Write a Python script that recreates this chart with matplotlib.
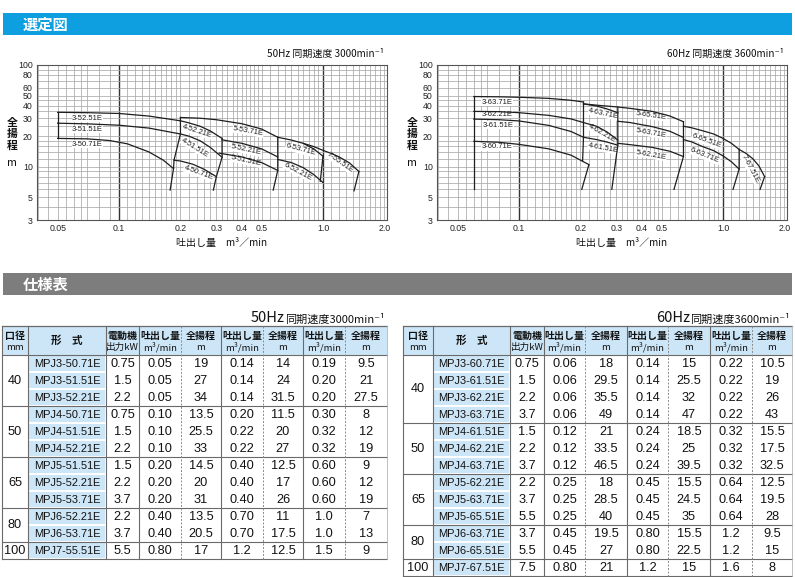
import numpy as np
import matplotlib
matplotlib.use("Agg")
import matplotlib.pyplot as plt
from matplotlib.patches import Rectangle
from matplotlib.ticker import NullLocator, NullFormatter
from matplotlib import font_manager

avail = {f.name for f in font_manager.fontManager.ttflist}
JP = ['Noto Sans CJK JP', 'DejaVu Sans']
LAT = ['Liberation Sans', 'DejaVu Sans'] if 'Liberation Sans' in avail else ['DejaVu Sans']
HAS_NARROW = 'Liberation Sans Narrow' in avail
NARROW = ['Liberation Sans Narrow', 'DejaVu Sans'] if HAS_NARROW else LAT
LABSIZE = 6.4 if HAS_NARROW else 5.5
MODELSIZE = 9.0 if HAS_NARROW else 7.9

# ---------------- data: 50 Hz selection chart (Q m3/min, H m) ----------------
s50_3 = [("3-52.51E", [0.05, 0.07, 0.10, 0.14, 0.20], [34.3, 34.0, 33.4, 31.5, 28.3]),
         ("3-51.51E", [0.05, 0.07, 0.10, 0.14, 0.20], [26.8, 26.4, 25.6, 24.0, 21.0]),
         ("3-50.71E", [0.05, 0.07, 0.09, 0.11, 0.14, 0.165, 0.185], [19.0, 18.8, 18.1, 16.8, 14.0, 11.6, 9.6])]
s50_4 = [("4-52.21E", [0.20, 0.22, 0.25, 0.28, 0.32], [28.3, 27.0, 25.0, 22.5, 19.0]),
         ("4-51.51E", [0.20, 0.22, 0.25, 0.28, 0.32], [21.0, 20.0, 18.0, 15.5, 12.4]),
         ("4-50.71E", [0.186, 0.20, 0.23, 0.26, 0.30], [11.6, 11.4, 10.6, 9.5, 8.0])]
s50_5 = [("5-53.71E", [0.20, 0.25, 0.30, 0.40, 0.50, 0.60], [30.5, 30.0, 29.0, 26.5, 23.5, 19.5]),
         ("5-52.21E", [0.32, 0.40, 0.50, 0.60], [18.4, 17.0, 15.0, 12.5]),
         ("5-51.51E", [0.31, 0.40, 0.50, 0.60], [13.6, 12.5, 11.0, 9.2])]
s50_6 = [("6-53.71E", [0.60, 0.70, 0.80, 0.90, 1.00], [19.5, 18.3, 17.0, 15.0, 12.7]),
         ("6-52.21E", [0.60, 0.70, 0.80, 0.90, 1.00], [11.8, 11.0, 9.8, 8.4, 7.0])]
s50_7 = [("7-55.51E", [0.80, 0.90, 1.00, 1.10, 1.20, 1.35, 1.50], [17.0, 15.8, 14.5, 13.5, 12.5, 10.9, 9.0])]
b50 = [([0.05, 0.05], [34.3, 19.0]),
       ([0.20, 0.20, 0.186, 0.185, 0.178], [30.5, 21.0, 11.6, 9.6, 5.9]),
       ([0.32, 0.32, 0.30, 0.29], [19.0, 12.4, 8.0, 5.9]),
       ([0.60, 0.60, 0.57], [19.5, 9.2, 5.9]),
       ([1.00, 0.97], [12.7, 7.2]),
       ([1.50, 1.42], [9.0, 5.8])]

# ---------------- data: 60 Hz selection chart ----------------
s60_3 = [("3-63.71E", [0.06, 0.08, 0.10, 0.14, 0.18, 0.207], [49.0, 48.7, 48.2, 47.0, 45.0, 43.3]),
         ("3-62.21E", [0.06, 0.08, 0.10, 0.14, 0.18, 0.207], [35.0, 34.8, 34.0, 32.0, 29.5, 27.2]),
         ("3-61.51E", [0.06, 0.08, 0.10, 0.14, 0.18, 0.207], [29.4, 29.0, 28.2, 25.5, 22.2, 19.5]),
         ("3-60.71E", [0.06, 0.08, 0.10, 0.14, 0.18, 0.22], [17.8, 17.4, 16.6, 15.0, 13.0, 10.5])]
s60_4 = [("4-63.71E", [0.207, 0.24, 0.27, 0.305], [41.5, 39.5, 37.0, 34.0]),
         ("4-62.21E", [0.207, 0.24, 0.27, 0.305], [27.2, 25.0, 22.0, 18.3]),
         ("4-61.51E", [0.207, 0.24, 0.27, 0.305], [19.5, 18.5, 17.5, 16.3])]
s60_5 = [("5-65.51E", [0.207, 0.25, 0.30, 0.35, 0.45, 0.55, 0.64], [41.5, 40.0, 38.8, 37.5, 35.0, 31.5, 27.7]),
         ("5-63.71E", [0.305, 0.35, 0.45, 0.55, 0.64], [28.0, 27.2, 24.8, 22.3, 19.4]),
         ("5-62.21E", [0.305, 0.35, 0.45, 0.55, 0.64], [17.0, 16.5, 15.5, 14.2, 12.6])]
s60_6 = [("6-65.51E", [0.64, 0.70, 0.80, 0.90, 1.00, 1.10, 1.20], [25.0, 24.2, 22.5, 21.0, 19.0, 17.0, 14.8]),
         ("6-63.71E", [0.64, 0.70, 0.80, 0.90, 1.00, 1.10, 1.20], [18.5, 17.6, 15.7, 14.4, 12.8, 11.2, 9.5])]
s60_7 = [("7-67.51E", [1.20, 1.30, 1.40, 1.50, 1.60], [14.8, 13.5, 12.0, 10.2, 8.0])]
b60 = [([0.06, 0.06], [49.0, 6.0]),
       ([0.207, 0.207, 0.205], [43.3, 19.5, 11.5]),
       ([0.22, 0.203], [10.5, 6.0]),
       ([0.305, 0.305, 0.285], [38.6, 16.3, 6.0]),
       ([0.64, 0.64, 0.575], [27.7, 12.6, 6.0]),
       ([1.20, 1.20, 1.12], [14.8, 9.5, 6.0]),
       ([1.60, 1.52], [8.0, 6.0])]

# label positions (Q, H, rotation) -- layout, not data
lab50 = {"3-52.51E": (0.070, 29.9, 0), "3-51.51E": (0.070, 23.3, 0), "3-50.71E": (0.070, 16.6, 0),
         "4-52.21E": (0.240, 22.3, -18), "4-51.51E": (0.236, 15.3, -32), "4-50.71E": (0.245, 8.7, -20),
         "5-53.71E": (0.43, 22.3, -10), "5-52.21E": (0.42, 14.6, -12), "5-51.51E": (0.42, 11.4, -12),
         "6-53.71E": (0.78, 14.6, -15), "6-52.21E": (0.757, 8.9, -28), "7-55.51E": (1.21, 11.0, -35)}
lab60 = {"3-63.71E": (0.078, 43.0, 0), "3-62.21E": (0.078, 32.7, 0), "3-61.51E": (0.079, 25.7, 0),
         "3-60.71E": (0.078, 15.7, 0),
         "4-63.71E": (0.26, 33.0, -12), "4-62.21E": (0.254, 21.3, -30), "4-61.51E": (0.259, 15.2, -10),
         "5-65.51E": (0.445, 31.8, -8), "5-63.71E": (0.444, 21.5, -10), "5-62.21E": (0.444, 13.1, -10),
         "6-65.51E": (0.832, 17.8, -20), "6-63.71E": (0.816, 12.8, -22), "7-67.51E": (1.36, 9.6, -62)}

x_ticks = [0.05, 0.1, 0.2, 0.3, 0.4, 0.5, 1.0, 2.0]
x_ticklabels = ["0.05", "0.1", "0.2", "0.3", "0.4", "0.5", "1.0", "2.0"]
y_ticks = [3, 5, 10, 20, 30, 40, 50, 60, 80, 100]
y_ticklabels = ["3", "5", "10", "20", "30", "40", "50", "60", "80", "100"]

# ---------------- data: specification tables ----------------
hdr = [("口径", "mm"), ("形　式", ""), ("電動機", "出力kW"), ("吐出し量", "m³/min"), ("全揚程", "m"),
       ("吐出し量", "m³/min"), ("全揚程", "m"), ("吐出し量", "m³/min"), ("全揚程", "m")]

t50_bore = ["40", "50", "65", "80", "100"]
t50_groups = [3, 3, 3, 2, 1]
t50_model = ["MPJ3-50.71E", "MPJ3-51.51E", "MPJ3-52.21E", "MPJ4-50.71E", "MPJ4-51.51E", "MPJ4-52.21E",
             "MPJ5-51.51E", "MPJ5-52.21E", "MPJ5-53.71E", "MPJ6-52.21E", "MPJ6-53.71E", "MPJ7-55.51E"]
t50_kw = ["0.75", "1.5", "2.2", "0.75", "1.5", "2.2", "1.5", "2.2", "3.7", "2.2", "3.7", "5.5"]
t50_q1 = ["0.05", "0.05", "0.05", "0.10", "0.10", "0.10", "0.20", "0.20", "0.20", "0.40", "0.40", "0.80"]
t50_h1 = ["19", "27", "34", "13.5", "25.5", "33", "14.5", "20", "31", "13.5", "20.5", "17"]
t50_q2 = ["0.14", "0.14", "0.14", "0.20", "0.22", "0.22", "0.40", "0.40", "0.40", "0.70", "0.70", "1.2"]
t50_h2 = ["14", "24", "31.5", "11.5", "20", "27", "12.5", "17", "26", "11", "17.5", "12.5"]
t50_q3 = ["0.19", "0.20", "0.20", "0.30", "0.32", "0.32", "0.60", "0.60", "0.60", "1.0", "1.0", "1.5"]
t50_h3 = ["9.5", "21", "27.5", "8", "12", "19", "9", "12", "19", "7", "13", "9"]

t60_bore = ["40", "50", "65", "80", "100"]
t60_groups = [4, 3, 3, 2, 1]
t60_model = ["MPJ3-60.71E", "MPJ3-61.51E", "MPJ3-62.21E", "MPJ3-63.71E", "MPJ4-61.51E", "MPJ4-62.21E",
             "MPJ4-63.71E", "MPJ5-62.21E", "MPJ5-63.71E", "MPJ5-65.51E", "MPJ6-63.71E", "MPJ6-65.51E",
             "MPJ7-67.51E"]
t60_kw = ["0.75", "1.5", "2.2", "3.7", "1.5", "2.2", "3.7", "2.2", "3.7", "5.5", "3.7", "5.5", "7.5"]
t60_q1 = ["0.06", "0.06", "0.06", "0.06", "0.12", "0.12", "0.12", "0.25", "0.25", "0.25", "0.45", "0.45", "0.80"]
t60_h1 = ["18", "29.5", "35.5", "49", "21", "33.5", "46.5", "18", "28.5", "40", "19.5", "27", "21"]
t60_q2 = ["0.14", "0.14", "0.14", "0.14", "0.24", "0.24", "0.24", "0.45", "0.45", "0.45", "0.80", "0.80", "1.2"]
t60_h2 = ["15", "25.5", "32", "47", "18.5", "25", "39.5", "15.5", "24.5", "35", "15.5", "22.5", "15"]
t60_q3 = ["0.22", "0.22", "0.22", "0.22", "0.32", "0.32", "0.32", "0.64", "0.64", "0.64", "1.2", "1.2", "1.6"]
t60_h3 = ["10.5", "19", "26", "43", "15.5", "17.5", "32.5", "12.5", "19.5", "28", "9.5", "15", "8"]

# ---------------- styling / layout ----------------
W, H = 795, 577
BLUE = "#0d9fe0"
GRAYBAR = "#7d7d7d"
CELL = "#cde6f7"
LINE = "#6a6a6a"
CURVE = "#1e1e1e"
TXT = "#111111"

XGRID = sorted(set(np.round(np.concatenate([
    np.arange(0.04, 0.0699, 0.005), np.arange(0.07, 0.0999, 0.01), np.arange(0.1, 0.1999, 0.01),
    np.arange(0.2, 0.4999, 0.02), np.arange(0.5, 0.9999, 0.05), np.arange(1.0, 2.001, 0.1)]), 3)))
YGRID = [3, 4, 5, 6, 7, 8, 9, 10, 12, 14, 16, 18, 20, 25, 30, 35, 40, 45, 50, 60, 70, 80, 90, 100]

fig = plt.figure(figsize=(W / 100, H / 100), dpi=100)
fig.patch.set_facecolor("white")
bg = fig.add_axes([0, 0, 1, 1])
bg.set_xlim(0, W)
bg.set_ylim(H, 0)
bg.set_autoscale_on(False)
bg.axis("off")

# header bars
bg.add_patch(Rectangle((3, 13), 789, 22, fc=BLUE, ec="none"))
bg.text(23, 24.5, "選定図", color="white", fontsize=11, fontweight="bold", family=JP, ha="left", va="center")
bg.add_patch(Rectangle((3, 273), 789, 22, fc=GRAYBAR, ec="none"))
bg.text(23, 284.5, "仕様表", color="white", fontsize=11, fontweight="bold", family=JP, ha="left", va="center")


def chart(x0, groups, bounds, labels, title):
    ax = fig.add_axes([x0 / W, 1 - 220 / H, 350 / W, 155 / H])
    ax.set_xscale("log")
    ax.set_yscale("log")
    for g in XGRID:
        major = abs(g - 0.1) < 1e-9 or abs(g - 1.0) < 1e-9
        ax.axvline(g, color="#333333" if major else "#a9a9a9", lw=1.0 if major else 0.55, zorder=1)
    for g in YGRID:
        ax.axhline(g, color="#a9a9a9", lw=0.55, zorder=1)
    for grp in groups:
        for name, q, h in grp:
            ax.plot(q, h, color=CURVE, lw=0.9, zorder=3, solid_joinstyle="round")
            lq, lh, rot = labels[name]
            ax.text(lq, lh, name, rotation=rot, rotation_mode="anchor", ha="center", va="center",
                    fontsize=LABSIZE, family=NARROW, color="#1a1a1a", zorder=2,
                    bbox=dict(fc="white", ec="none", pad=0.3))
    for q, h in bounds:
        ax.plot(q, h, color=CURVE, lw=0.9, zorder=3, solid_joinstyle="round")
    ax.set_xlim(0.0396, 2.06)
    ax.set_ylim(3, 100)
    ax.set_xticks(x_ticks)
    ax.set_xticklabels(x_ticklabels)
    ax.set_yticks(y_ticks)
    ax.set_yticklabels(y_ticklabels)
    ax.xaxis.set_minor_locator(NullLocator())
    ax.yaxis.set_minor_locator(NullLocator())
    ax.xaxis.set_minor_formatter(NullFormatter())
    ax.yaxis.set_minor_formatter(NullFormatter())
    ax.tick_params(length=0, pad=3, labelsize=6.3, labelcolor="#222222")
    for t in ax.get_xticklabels() + ax.get_yticklabels():
        t.set_fontfamily(LAT)
    for s in ax.spines.values():
        s.set_color("#555555")
        s.set_linewidth(0.8)
    bg.text(x0 + 347, 54, title, ha="right", va="center", fontsize=7.2, family=JP, color=TXT)
    for k, ch in enumerate("全揚程"):
        bg.text(x0 - 25, 123 + 11.5 * k, ch, ha="center", va="center", fontsize=7.8,
                fontweight="bold", family=JP, color=TXT)
    bg.text(x0 - 25, 162.5, "m", ha="center", va="center", fontsize=7.8, family=JP, color=TXT)
    bg.text(x0 + 185, 243, "吐出し量　m³／min", ha="center", va="center", fontsize=7.2,
            family=JP, color=TXT)
    return ax


chart(37, [s50_3, s50_4, s50_5, s50_6, s50_7], b50, lab50, "50Hz 同期速度 3000min⁻¹")
chart(437, [s60_3, s60_4, s60_5, s60_6, s60_7], b60, lab60, "60Hz 同期速度 3600min⁻¹")


def table(cols, top, hb, rh, bores, groups, models, kw, q1, h1, q2, h2, q3, h3):
    n = len(models)
    bot = hb + n * rh
    bg.add_patch(Rectangle((cols[0], top), cols[-1] - cols[0], hb - top, fc=CELL, ec="none", zorder=1))
    for i in range(n):
        bg.add_patch(Rectangle((cols[1] + 0.6, hb + i * rh + 0.6), cols[2] - cols[1] - 1.2, rh - 1.2,
                               fc=CELL, ec="none", zorder=1))
    for j, (a, b) in enumerate(hdr):
        cx = (cols[j] + cols[j + 1]) / 2
        if b:
            bg.text(cx, top + 9.5, a, ha="center", va="center", fontsize=7.2, fontweight="bold",
                    family=JP, color=TXT, zorder=3)
            bg.text(cx, top + 21.5, b, ha="center", va="center", fontsize=6.9,
                    family=JP, color=TXT, zorder=3)
        else:
            bg.text(cx, (top + hb) / 2, a, ha="center", va="center", fontsize=7.6, fontweight="bold",
                    family=JP, color=TXT, zorder=3)
    body = [kw, q1, h1, q2, h2, q3, h3]
    for i in range(n):
        cy = hb + (i + 0.5) * rh + 0.3
        bg.text((cols[1] + cols[2]) / 2, cy, models[i], ha="center", va="center", fontsize=MODELSIZE,
                family=NARROW, color=TXT, zorder=3)
        for j, arr in enumerate(body):
            cx = (cols[j + 2] + cols[j + 3]) / 2
            bg.text(cx, cy, arr[i], ha="center", va="center", fontsize=9.2, family=LAT,
                    color=TXT, zorder=3)
    r0 = 0
    for b, g in zip(bores, groups):
        cy = hb + (r0 + g / 2) * rh + 0.3
        bg.text((cols[0] + cols[1]) / 2, cy, b, ha="center", va="center", fontsize=9.2, family=LAT,
                color=TXT, zorder=3)
        r0 += g
        y = hb + r0 * rh
        bg.plot([cols[0], cols[-1]], [y, y], color=LINE, lw=0.8, zorder=2)
    bg.plot([cols[0], cols[-1]], [top, top], color=LINE, lw=0.9, zorder=2)
    bg.plot([cols[0], cols[-1]], [hb, hb], color=LINE, lw=0.8, zorder=2)
    for k, x in enumerate(cols):
        if k in (4, 6, 8):
            bg.plot([x, x], [top, bot], color="#8a8a8a", lw=0.7, ls=(0, (2, 1.6)), zorder=2)
        elif k == len(cols) - 1:
            bg.plot([x, x], [top, bot], color="#b5b5b5", lw=0.6, zorder=2)
        else:
            bg.plot([x, x], [top, bot], color=LINE, lw=0.8, zorder=2)


table([2, 28, 106, 139, 181, 221, 263, 303, 345, 387], 326, 355, 17.0,
      t50_bore, t50_groups, t50_model, t50_kw, t50_q1, t50_h1, t50_q2, t50_h2, t50_q3, t50_h3)
table([403, 433, 510, 544, 585, 627, 668, 710, 752, 792], 326, 355, 17.0,
      t60_bore, t60_groups, t60_model, t60_kw, t60_q1, t60_h1, t60_q2, t60_h2, t60_q3, t60_h3)

# table subtitles: large "50Hz" followed by smaller text
fig.canvas.draw()
rend = fig.canvas.get_renderer()
for xr, hz, rest in [(385, "50Hz", "同期速度3000min⁻¹"), (790, "60Hz", "同期速度3600min⁻¹")]:
    t2 = bg.text(xr, 322.5, rest, ha="right", va="baseline", fontsize=8, family=JP, color=TXT)
    bb = t2.get_window_extent(renderer=rend)
    bg.text(bb.x0 - 0.5, 322.5, hz, ha="right", va="baseline", fontsize=10.5, family=JP, color=TXT)

fig.savefig("out.png", dpi=100, facecolor="white")
